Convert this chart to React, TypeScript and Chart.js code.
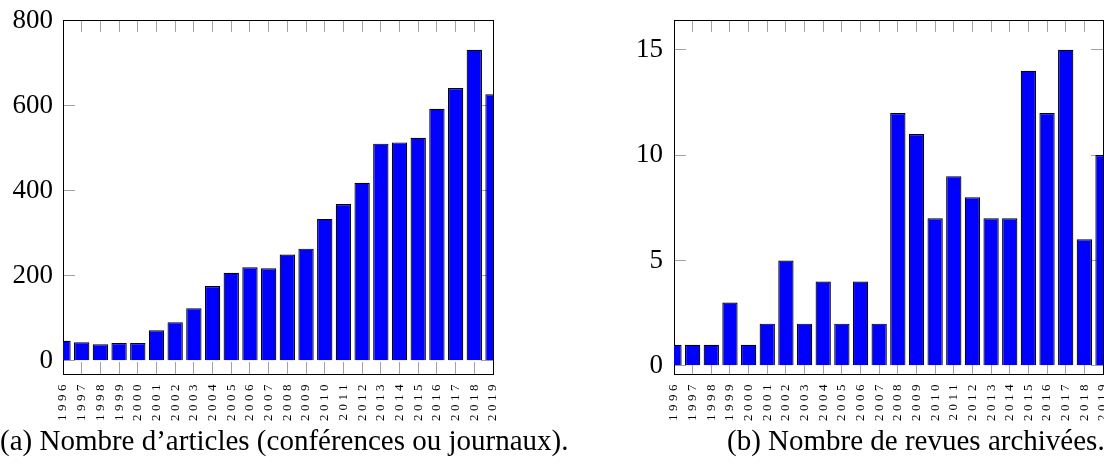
import React, { useEffect, useRef } from 'react';
import { Chart, registerables } from 'chart.js';

Chart.register(...registerables);

const years = ['1996', '1997', '1998', '1999', '2000', '2001', '2002', '2003', '2004', '2005', '2006', '2007', '2008', '2009', '2010', '2011', '2012', '2013', '2014', '2015', '2016', '2017', '2018', '2019'];
const articles = [47, 44, 39, 42, 42, 72, 91, 124, 176, 207, 220, 218, 250, 264, 334, 369, 419, 511, 514, 525, 593, 642, 732, 627];
const reviews = [1, 1, 1, 3, 1, 2, 5, 2, 4, 2, 4, 2, 12, 11, 7, 9, 8, 7, 7, 14, 12, 15, 6, 10];
const articleTicks = [0, 200, 400, 600, 800];
const reviewTicks = [0, 5, 10, 15];
const captionA = '(a) Nombre d\u2019articles (conférences ou journaux).';
const captionB = '(b) Nombre de revues archivées.';

const SERIF = "'Liberation Serif', 'DejaVu Serif', serif";

const stretchLabels = {
  id: 'stretchLabels',
  beforeDraw(chart: any) {
    const s: any = chart.scales.x;
    if (s && !s.__patched) {
      const orig = s.drawLabels.bind(s);
      s.drawLabels = (area: any) => {
        const ctx: any = chart.ctx;
        ctx.save();
        ctx.letterSpacing = '3.5px';
        orig(area);
        ctx.restore();
      };
      s.__patched = true;
    }
  },
};

function makeConfig(values: number[], tickValues: number[], yMin: number, yMax: number, yWidth: number, padRight: number, yLabelPad: number): any {
  const grid = { display: true, drawOnChartArea: false, drawTicks: true, tickLength: -12, color: '#a3a3a3', lineWidth: 1, offset: false };
  const border = { display: true, color: '#000', width: 1 };
  const setTicks = (s: any) => {
    s.ticks = tickValues.map((v) => ({ value: v }));
  };
  const noPad = (s: any) => {
    s.paddingTop = 0;
    s.paddingBottom = 0;
    s.paddingLeft = 0;
    s.paddingRight = 0;
  };
  return {
    type: 'bar',
    data: {
      labels: years,
      datasets: [
        {
          data: values,
          backgroundColor: '#0000ff',
          borderColor: '#000000',
          borderWidth: 1.2,
          categoryPercentage: 1,
          barPercentage: 0.82,
          clip: 0,
          xAxisID: 'x',
          yAxisID: 'y',
        },
      ],
    },
    options: {
      animation: false,
      responsive: false,
      devicePixelRatio: 1,
      layout: { padding: { top: 20, left: 0, right: padRight, bottom: 0 } },
      plugins: { legend: { display: false }, tooltip: { enabled: false } },
      scales: {
        x: {
          type: 'category',
          position: 'bottom',
          offset: false,
          grid,
          border,
          ticks: { autoSkip: false, minRotation: 90, maxRotation: 90, padding: 19, color: '#000', font: { family: SERIF, size: 13 } },
          afterFit: (s: any) => {
            s.height = 56;
            noPad(s);
          },
        },
        x2: {
          type: 'category',
          position: 'top',
          offset: false,
          grid,
          border,
          ticks: { display: false, autoSkip: false },
          afterFit: (s: any) => {
            s.height = 0;
            noPad(s);
          },
        },
        y: {
          type: 'linear',
          position: 'left',
          min: yMin,
          max: yMax,
          grid,
          border,
          ticks: { padding: yLabelPad, color: '#000', font: { family: SERIF, size: 27 } },
          afterBuildTicks: setTicks,
          afterFit: (s: any) => {
            s.width = yWidth;
            noPad(s);
          },
        },
        y2: {
          type: 'linear',
          position: 'right',
          min: yMin,
          max: yMax,
          grid,
          border,
          ticks: { display: false },
          afterBuildTicks: setTicks,
          afterFit: (s: any) => {
            s.width = 0;
            noPad(s);
          },
        },
      },
    },
    plugins: [stretchLabels],
  };
}

export default function App() {
  const refA = useRef<HTMLCanvasElement>(null);
  const refB = useRef<HTMLCanvasElement>(null);

  useEffect(() => {
    const a = new Chart(refA.current as HTMLCanvasElement, makeConfig(articles, articleTicks, -31, 802, 63, 47, 22));
    const b = new Chart(refB.current as HTMLCanvasElement, makeConfig(reviews, reviewTicks, -0.39, 16.41, 74, 97, 23));
    return () => {
      a.destroy();
      b.destroy();
    };
  }, []);

  const capStyle: React.CSSProperties = {
    position: 'absolute',
    top: 423,
    fontFamily: SERIF,
    fontSize: 29,
    lineHeight: '34px',
    whiteSpace: 'nowrap',
    color: '#000',
  };

  return (
    <div style={{ position: 'fixed', left: 0, top: 0, width: 1104, height: 475, overflow: 'hidden', background: '#fff' }}>
      <canvas ref={refA} width={540} height={430} style={{ position: 'absolute', left: 0, top: 0 }} />
      <canvas ref={refB} width={600} height={430} style={{ position: 'absolute', left: 600, top: 0 }} />
      <div style={{ ...capStyle, left: 0 }}>{captionA}</div>
      <div style={{ ...capStyle, left: 727 }}>{captionB}</div>
    </div>
  );
}
